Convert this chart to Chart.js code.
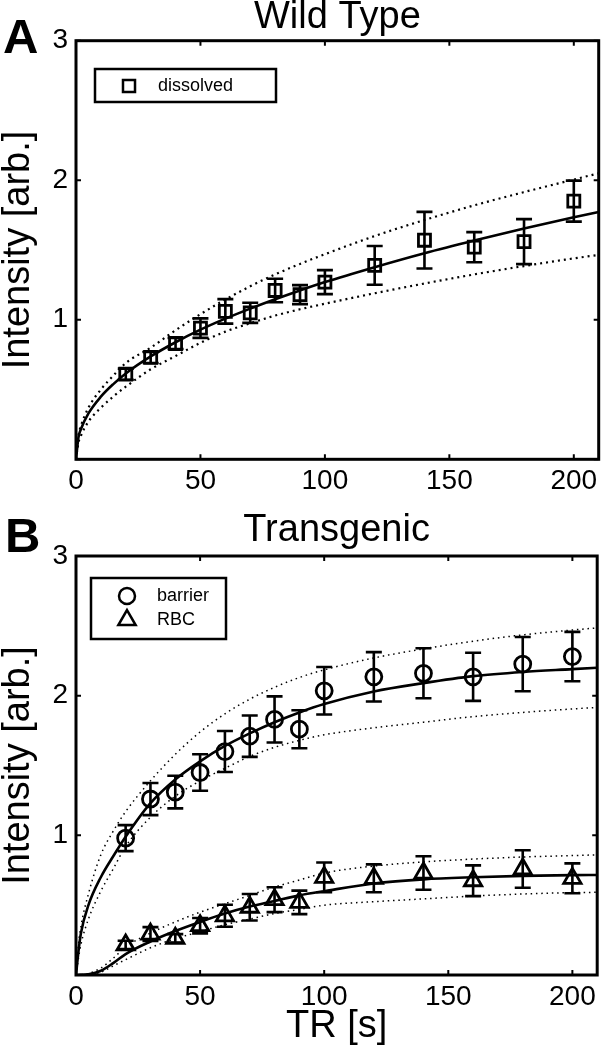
<!DOCTYPE html>
<html>
<head>
<meta charset="utf-8">
<script src="https://cdn.jsdelivr.net/npm/chart.js@4.4.1/dist/chart.umd.min.js"></script>
<style>
  html, body { margin: 0; padding: 0; background: #fff; }
  #wrap { position: relative; width: 610px; height: 1050px; }
  canvas { position: absolute; left: 0; }
</style>
</head>
<body>
<div id="wrap">
  <canvas id="chart_a" width="610" height="500" style="top:0;width:610px;height:500px"></canvas>
  <canvas id="chart_b" width="610" height="550" style="top:500px;width:610px;height:550px"></canvas>
</div>
<script>
//
// DATA
//
const tr_points = [20, 30, 40, 50, 60, 70, 80, 90, 100, 120, 140, 160, 180, 200];

const dissolved     = [0.61, 0.73, 0.83, 0.94, 1.06, 1.05, 1.21, 1.18, 1.27, 1.39, 1.57, 1.52, 1.56, 1.85];
const dissolved_err = [0.04, 0.04, 0.04, 0.07, 0.088, 0.072, 0.084, 0.068, 0.086, 0.139, 0.203, 0.108, 0.161, 0.147];

const barrier     = [0.98, 1.26, 1.31, 1.45, 1.60, 1.71, 1.83, 1.76, 2.035, 2.135, 2.16, 2.135, 2.226, 2.28];
const barrier_err = [0.093, 0.115, 0.117, 0.131, 0.147, 0.148, 0.165, 0.136, 0.17, 0.177, 0.179, 0.172, 0.194, 0.177];

const rbc     = [0.215, 0.293, 0.263, 0.353, 0.424, 0.485, 0.539, 0.52, 0.699, 0.692, 0.73, 0.675, 0.759, 0.692];
const rbc_err = [0.03, 0.05, 0.03, 0.055, 0.079, 0.095, 0.089, 0.084, 0.107, 0.1, 0.12, 0.11, 0.134, 0.107];

// fitted curves at these TR values
const fit_tr = [0, 1, 2, 5, 10, 15, 20, 30, 40, 50, 60, 70, 80, 90, 100, 120, 140, 160, 180, 200, 210];

const dissolved_fit   = [0, 0.159, 0.217, 0.329, 0.449, 0.539, 0.615, 0.737, 0.839, 0.929, 1.008, 1.08, 1.147, 1.21, 1.27, 1.377, 1.477, 1.568, 1.654, 1.735, 1.773];
const dissolved_upper = [0, 0.17, 0.24, 0.37, 0.50, 0.60, 0.69, 0.80, 0.925, 1.04, 1.145, 1.24, 1.325, 1.40, 1.47, 1.60, 1.715, 1.82, 1.915, 2.005, 2.05];
const dissolved_lower = [0, 0.12, 0.17, 0.27, 0.37, 0.45, 0.52, 0.645, 0.74, 0.835, 0.915, 0.975, 1.03, 1.075, 1.115, 1.19, 1.26, 1.325, 1.385, 1.44, 1.465];

const barrier_fit   = [0, 0.17, 0.30, 0.50, 0.70, 0.85, 0.99, 1.23, 1.40, 1.53, 1.64, 1.73, 1.81, 1.88, 1.94, 2.03, 2.09, 2.14, 2.17, 2.19, 2.20];
const barrier_upper = [0, 0.22, 0.35, 0.58, 0.86, 1.03, 1.17, 1.39, 1.58, 1.74, 1.87, 1.975, 2.06, 2.13, 2.185, 2.27, 2.335, 2.39, 2.435, 2.47, 2.485];
const barrier_lower = [0, 0.12, 0.22, 0.40, 0.60, 0.76, 0.92, 1.13, 1.28, 1.39, 1.48, 1.565, 1.63, 1.68, 1.72, 1.77, 1.81, 1.85, 1.88, 1.905, 1.916];

const rbc_fit   = [0, 0, 0.001, 0.005, 0.03, 0.085, 0.15, 0.24, 0.315, 0.38, 0.44, 0.49, 0.53, 0.57, 0.60, 0.655, 0.685, 0.70, 0.71, 0.715, 0.716];
const rbc_upper = [0, 0, 0.002, 0.01, 0.05, 0.12, 0.20, 0.30, 0.38, 0.45, 0.51, 0.57, 0.63, 0.68, 0.73, 0.78, 0.81, 0.83, 0.845, 0.855, 0.86];
const rbc_lower = [0, 0, 0.001, 0.004, 0.02, 0.065, 0.11, 0.195, 0.26, 0.31, 0.36, 0.40, 0.44, 0.47, 0.50, 0.525, 0.545, 0.565, 0.58, 0.59, 0.592];

const x_ticks = [0, 50, 100, 150, 200];
const y_ticks = [0, 1, 2, 3];

const FONT = "'Liberation Sans', Arial, sans-serif";

//
// HELPERS
//
function to_points(xs, ys) {
    return xs.map((x, i) => ({ x: x, y: ys[i] }));
}

function marker_set(label, values, errors, style, radius) {
    return {
        label: label,
        data: to_points(tr_points, values),
        errors: errors,
        showLine: false,
        pointStyle: style,
        pointRadius: radius,
        pointBorderWidth: 2.8,
        pointBorderColor: "#000",
        pointBackgroundColor: "rgba(0,0,0,0)"
    };
}

function curve_set(values, dotted, thin) {
    return {
        data: to_points(fit_tr, values),
        showLine: true,
        pointRadius: 0,
        borderColor: "#000",
        borderWidth: dotted ? (thin ? 1.5 : 2.2) : 2.6,
        borderDash: dotted ? (thin ? [1.5, 3.8] : [2, 4]) : [],
        cubicInterpolationMode: "monotone",
        fill: false
    };
}

//
// FRAME, TICKS, ERROR BARS, LEGEND, PANEL LETTER
//
const panel_decor = {
    id: "panel_decor",
    beforeDatasetsDraw(chart) {
        const ctx = chart.ctx;
        const ys = chart.scales.y;
        ctx.save();
        ctx.strokeStyle = "#000";
        ctx.lineWidth = 2.6;
        chart.data.datasets.forEach((ds, i) => {
            if (!ds.errors) return;
            const meta = chart.getDatasetMeta(i);
            ds.data.forEach((p, j) => {
                const px = meta.data[j].x;
                const top = ys.getPixelForValue(p.y + ds.errors[j]);
                const bot = ys.getPixelForValue(p.y - ds.errors[j]);
                ctx.beginPath();
                ctx.moveTo(px, top); ctx.lineTo(px, bot);
                ctx.moveTo(px - 8, top); ctx.lineTo(px + 8, top);
                ctx.moveTo(px - 8, bot); ctx.lineTo(px + 8, bot);
                ctx.stroke();
            });
        });
        ctx.restore();
    },
    afterDraw(chart, args, opts) {
        const ctx = chart.ctx;
        const a = chart.chartArea;
        const xs = chart.scales.x;
        const ys = chart.scales.y;
        ctx.save();
        ctx.strokeStyle = "#000";
        ctx.lineWidth = 3;
        ctx.strokeRect(a.left, a.top, a.right - a.left, a.bottom - a.top);

        // inward ticks on all four sides
        ctx.lineWidth = 2;
        ctx.beginPath();
        x_ticks.forEach(v => {
            const px = xs.getPixelForValue(v);
            ctx.moveTo(px, a.bottom); ctx.lineTo(px, a.bottom - 5);
            ctx.moveTo(px, a.top); ctx.lineTo(px, a.top + 5);
        });
        y_ticks.forEach(v => {
            const py = ys.getPixelForValue(v);
            ctx.moveTo(a.left, py); ctx.lineTo(a.left + 5, py);
            ctx.moveTo(a.right, py); ctx.lineTo(a.right - 5, py);
        });
        ctx.stroke();

        // legend box
        const lg = opts.legend;
        ctx.lineWidth = 2.5;
        ctx.strokeRect(lg.left, lg.top, lg.width, lg.height);
        ctx.font = "18px " + FONT;
        ctx.textBaseline = "middle";
        ctx.textAlign = "left";
        lg.items.forEach(item => {
            const ds = chart.data.datasets[item.dataset];
            ctx.strokeStyle = "#000";
            ctx.fillStyle = "rgba(0,0,0,0)";
            Chart.helpers.drawPoint(ctx, {
                pointStyle: ds.pointStyle,
                radius: ds.pointRadius,
                borderWidth: 2.8,
                rotation: 0
            }, lg.marker_x, item.y);
            ctx.fillStyle = "#000";
            ctx.fillText(ds.label, lg.text_x, item.y);
        });

        // panel letter
        ctx.font = "bold 49px " + FONT;
        ctx.textBaseline = "alphabetic";
        ctx.fillStyle = "#000";
        ctx.fillText(opts.letter, opts.letter_x, opts.letter_y);
        ctx.restore();
    }
};

function make_options(title_text, title_pad, x_height, x_title, decor) {
    return {
        responsive: false,
        animation: false,
        devicePixelRatio: 1,
        layout: { padding: { left: 0, right: 3, top: 0, bottom: 0 } },
        plugins: {
            legend: { display: false },
            tooltip: { enabled: false },
            title: {
                display: true,
                text: title_text,
                color: "#000",
                fullSize: false,
                font: { family: FONT, size: 38, weight: "normal", lineHeight: 0.9 },
                padding: title_pad
            },
            panel_decor: decor
        },
        scales: {
            x: {
                type: "linear",
                min: 0,
                max: 210,
                grid: { display: false, drawTicks: false },
                border: { display: false },
                ticks: {
                    stepSize: 50,
                    includeBounds: false,
                    maxRotation: 0,
                    color: "#000",
                    padding: 5,
                    font: { family: FONT, size: 28 }
                },
                title: x_title
                    ? { display: true, text: x_title, color: "#000", font: { family: FONT, size: 38, lineHeight: 1 }, padding: { top: 0, bottom: 4 } }
                    : { display: false },
                afterFit: s => { s.height = x_height; }
            },
            y: {
                type: "linear",
                min: 0,
                max: 3,
                grid: { display: false, drawTicks: false },
                border: { display: false },
                ticks: {
                    stepSize: 1,
                    color: "#000",
                    padding: 8,
                    font: { family: FONT, size: 28 },
                    callback: v => (v === 0 ? "" : v)
                },
                title: {
                    display: true,
                    text: "Intensity [arb.]",
                    color: "#000",
                    font: { family: FONT, size: 38, lineHeight: 1 },
                    padding: { top: 0, bottom: 0 }
                },
                afterFit: s => { s.width = 76; }
            }
        }
    };
}

//
// PANEL A
//
new Chart(document.getElementById("chart_a"), {
    type: "scatter",
    data: {
        datasets: [
            marker_set("dissolved", dissolved, dissolved_err, "rect", 8.5),
            curve_set(dissolved_fit, false),
            curve_set(dissolved_upper, true, false),
            curve_set(dissolved_lower, true, false)
        ]
    },
    options: make_options("Wild Type", { top: 0, bottom: 6.5 }, 40.7, null, {
        letter: "A", letter_x: 3, letter_y: 53,
        legend: {
            left: 95, top: 69, width: 181, height: 33, marker_x: 129, text_x: 158,
            items: [{ dataset: 0, y: 86 }]
        }
    }),
    plugins: [panel_decor]
});

//
// PANEL B
//
new Chart(document.getElementById("chart_b"), {
    type: "scatter",
    data: {
        datasets: [
            marker_set("barrier", barrier, barrier_err, "circle", 8),
            marker_set("RBC", rbc, rbc_err, "triangle", 10),
            curve_set(barrier_fit, false),
            curve_set(barrier_upper, true, true),
            curve_set(barrier_lower, true, true),
            curve_set(rbc_fit, false),
            curve_set(rbc_upper, true, true),
            curve_set(rbc_lower, true, true)
        ]
    },
    options: make_options("Transgenic", { top: 13, bottom: 8.8 }, 75, "TR [s]", {
        letter: "B", letter_x: 5, letter_y: 52,
        legend: {
            left: 91, top: 78, width: 135, height: 61, marker_x: 127, text_x: 157,
            items: [{ dataset: 0, y: 96 }, { dataset: 1, y: 120 }]
        }
    }),
    plugins: [panel_decor]
});
</script>
</body>
</html>
